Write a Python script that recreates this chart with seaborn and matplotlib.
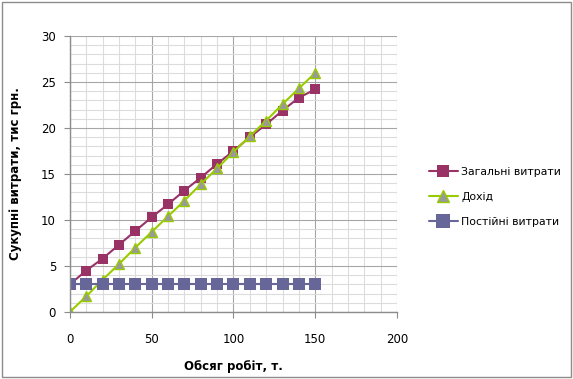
import numpy as np
import pandas as pd
import matplotlib
matplotlib.use("Agg")
import matplotlib.pyplot as plt
from matplotlib.ticker import MultipleLocator
from matplotlib.patches import Rectangle
import seaborn as sns

# дані
obsyag = [0, 10, 20, 30, 40, 50, 60, 70, 80, 90, 100, 110, 120, 130, 140, 150]
zagalni = [3.0, 4.5, 5.8, 7.3, 8.8, 10.3, 11.7, 13.2, 14.6, 16.1, 17.5, 19.0, 20.4, 21.9, 23.3, 24.2]
dokhid = [0.0, 1.7, 3.5, 5.2, 7.0, 8.7, 10.4, 12.1, 13.9, 15.6, 17.4, 19.1, 20.8, 22.6, 24.3, 26.0]
postiyni = [3.0] * 16

sns.set_style("white", {'text.color': 'black', 'axes.labelcolor': 'black',
                        'xtick.color': 'black', 'ytick.color': 'black'})
plt.rcParams['font.family'] = ['DejaVu Sans']

df = pd.DataFrame({'x': obsyag, 'zag': zagalni, 'dokh': dokhid, 'post': postiyni})

fig = plt.figure(figsize=(5.73, 3.79), dpi=100)
ax = fig.add_axes([0.122, 0.177, 0.571, 0.728])

sns.lineplot(data=df, x='x', y='zag', ax=ax, color='#993366', marker='s',
             markersize=7.5, markeredgewidth=0, linewidth=1.5, label='Загальні витрати')
sns.lineplot(data=df, x='x', y='dokh', ax=ax, color='#99CC00', marker='^',
             markersize=7.5, markerfacecolor='#999999', markeredgecolor='#99CC00',
             markeredgewidth=1, linewidth=1.5, label='Дохід')
sns.lineplot(data=df, x='x', y='post', ax=ax, color='#666699', marker='s',
             markersize=9, markeredgewidth=0, linewidth=1.5, label='Постійні витрати')

ax.set_xlim(0, 200)
ax.set_ylim(0, 30)
ax.xaxis.set_major_locator(MultipleLocator(50))
ax.xaxis.set_minor_locator(MultipleLocator(10))
ax.yaxis.set_major_locator(MultipleLocator(5))
ax.yaxis.set_minor_locator(MultipleLocator(1))
ax.grid(which='minor', color='#dcdcdc', linewidth=0.8)
ax.grid(which='major', color='#a6a6a6', linewidth=0.8)
ax.set_axisbelow(True)
for s in ['top', 'right']:
    ax.spines[s].set_visible(False)
for s in ['left', 'bottom']:
    ax.spines[s].set_color('#8c8c8c')
    ax.spines[s].set_linewidth(1)
ax.tick_params(which='major', direction='out', length=4, color='#8c8c8c',
               labelsize=8.5, labelcolor='black', bottom=True, left=True)
ax.tick_params(axis='x', pad=11)
ax.tick_params(axis='y', pad=6)
ax.tick_params(which='minor', length=0)

ax.set_xlabel('Обсяг робіт, т.', fontsize=8.5, fontweight='bold', labelpad=10)
ax.set_ylabel('Сукупні витрати, тис грн.', fontsize=8.5, fontweight='bold', labelpad=14)

ax.legend(loc='center left', bbox_to_anchor=(1.08, 0.417), frameon=False, borderpad=0,
          fontsize=7.8, handlelength=2.7, handletextpad=0.3, labelspacing=1.35,
          markerscale=1.15)

fig.patches.append(Rectangle((0.003, 0.005), 0.994, 0.99, transform=fig.transFigure,
                             fill=False, edgecolor='#8c8c8c', linewidth=1))

fig.savefig('out.png', dpi=100)
